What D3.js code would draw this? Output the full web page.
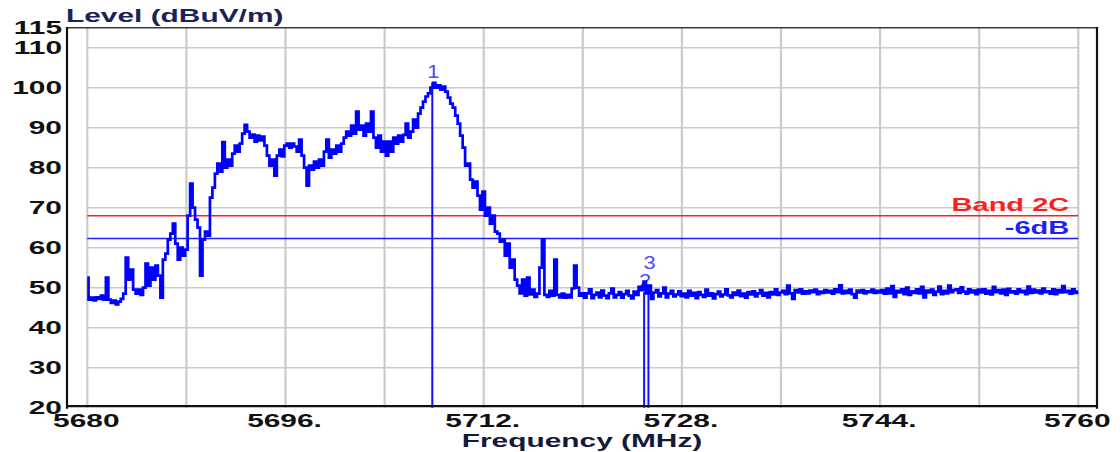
<!DOCTYPE html>
<html>
<head>
<meta charset="utf-8">
<script src="https://cdn.jsdelivr.net/npm/d3@7"></script>
<style>
  html, body { margin: 0; padding: 0; background: #fff; }
  svg { display: block; }
</style>
</head>
<body>
<svg id="chart" width="1120" height="452"></svg>
<script>
// ---------------- DATA ----------------
const freqStart = 5680;
const freqEnd = 5760;
// measured level trace (dBuV/m), evenly spaced from freqStart to freqEnd
const levels = [
  52.5, 47, 47.5, 46.8, 47.6, 47.2, 48, 47, 52.5, 47,
  46.2, 46.8, 45.8, 46.5, 47.2, 48.5, 57.5, 52, 54.5, 49.5,
  48.5, 49.5, 48.2, 50, 56, 50.5, 55, 52, 55.5, 53,
  47.5, 57, 58.5, 62, 63.5, 66, 61, 57, 60, 58,
  59.5,
  68, 76, 70, 67, 65, 53, 62, 64, 63, 72.5,
  75, 78.5, 81, 79, 86.4, 80, 82, 80.5, 83.5, 85.5,
  84, 86, 88.5, 90.7, 89, 87.5, 88.3, 86.5, 88, 86.8,
  87.8, 85.5, 83, 80.5, 82, 78, 83, 84.5, 82.8, 85.5,
  86, 85, 86, 85.3, 84, 87, 83, 80, 75.5, 80.5,
  79.5, 81.5, 80, 82, 80.5, 84, 87, 82.5, 84.5, 83.5,
  85.5, 84, 86, 87.5, 89, 88, 90.5, 88.5, 94, 89.5,
  90.5, 88, 91, 89, 94, 87.5, 85, 88, 84, 86.5,
  83, 86.5, 84, 87.5, 86, 88, 86.5, 88.2, 91, 87.5,
  89, 92, 90, 93.5, 95, 96.5, 97.8, 98.6, 100, 101.2,
  100, 100.6, 99.5, 100.3, 99, 97.5, 96, 95, 93, 91,
  88, 85, 80.5, 81, 77, 75, 76.5, 73, 69.5, 74,
  68, 70, 66, 68, 64, 63.5, 61.5, 62, 58, 61,
  55, 57, 52, 50.5, 48.6, 52, 48, 52.5, 48.3, 49.5,
  47.7, 48.5, 55, 62, 48.2, 47.7, 49.2, 48, 57, 48.2,
  47.6, 48.5, 47.5, 48.2, 47.6, 49.8, 55.5, 50, 48, 48.6,
  47.5, 48.6, 49.6, 47.4, 48.2, 48.8, 47.6, 49.3, 48, 47.4,
  48.6, 49.8, 47.6, 48.2, 48.9, 47.5, 48.4, 49.2, 48, 47.3,
  49, 48.2, 50.2, 49.4, 51.5, 48.6, 50.5, 47.2, 48.8, 49.4,
  47.8, 48.6, 50, 47.6, 48.5, 49.2, 47.8, 48.3, 49.1, 47.9,
  48.5, 47.6, 49.2, 48, 48.7, 47.4, 48.9, 48.2, 47.7, 49.5,
  48, 48.6, 47.3, 48.4, 49, 47.8, 48.3, 49.6, 48.1, 47.6,
  48.8, 48.2, 49.3, 47.9, 48.5, 47.5, 48.9, 48.3, 49.1, 47.8,
  48.6, 49.4, 48, 48.7, 47.6, 48.9, 48.3, 49.6, 48.2, 48.8,
  49.2, 48.4, 50.5, 48.6, 47.2, 49.4, 48.8, 49.6, 48.5, 49.1,
  48.6, 49.3, 48.9, 49.5, 48.4, 49, 48.7, 49.4, 48.8, 49.2,
  48.5, 49.6, 48.9, 50.6, 48.6, 49.2, 48.7, 49.5, 48.4, 47.5,
  49.3, 48.8, 49.4, 48.6, 49.1, 48.9, 49.5, 48.7, 49.2, 48.8,
  49.4, 48.5, 49.8, 48.6, 50.4, 47.7, 49.2, 48.8, 49.6, 48.4,
  50, 48.2, 49.1, 48.7, 49.6, 48.6, 50.2, 47.6, 49.3, 48.8,
  49.5, 48.2, 49, 50.3, 48.4, 49.2, 48.6, 50.5, 48.9, 49.4,
  49.6, 48.7, 50.1, 49, 48.5, 49.6, 48.8, 49.3, 48.4, 49.5,
  48.8, 49.6, 48.5, 49.2, 48.3, 50.2, 48.9, 49.4, 48.6, 49.5,
  48.2, 49.7, 48.8, 49.1, 48.5, 49.6, 48.9, 49.2, 48.4, 50.3,
  48.7, 49.5, 48.8, 49.3, 48.6, 49.8, 48.9, 49.1, 48.5, 49.6,
  48.4, 49.4, 48.8, 50.4, 48.9, 49.2, 48.5, 49.6, 48.7, 49
];

const xTickValues = [5680, 5696, 5712, 5728, 5744, 5760];
const xTickLabels = ["5680", "5696.", "5712.", "5728.", "5744.", "5760"];
const xGridValues = [5680, 5688, 5696, 5704, 5712, 5720, 5728, 5736, 5744, 5752, 5760];
const yTickValues = [20, 30, 40, 50, 60, 70, 80, 90, 100, 110, 115];
const yGridValues = [30, 40, 50, 60, 70, 80, 90, 100, 110];

const refLabels = ["Band 2C", "-6dB"];
const refLevels = [68, 62.3];
const refColors = ["#ff1e1e", "#1e1eff"];

const markerLabels = ["1", "2", "3"];
const markerFreqs = [5707.85, 5724.95, 5725.3];
const markerLevels = [101.2, 48.9, 49.6];

const yTitle = "Level (dBuV/m)";
const xTitle = "Frequency (MHz)";

// ---------------- LAYOUT ----------------
const SX = 1.66; // horizontal text stretch of the original screenshot
const FONT = "'Liberation Sans', Arial, Helvetica, sans-serif";
const frame = { left: 67, top: 27.7, right: 1097, bottom: 407.7 };

const svg = d3.select("#chart");

const x = d3.scaleLinear().domain([freqStart, freqEnd]).range([87.3, 1078.3]);
const y = d3.scaleLinear().domain([20, 115]).range([407.7, 27.7]);

function stretchedText(parent, px, py, str, anchor, fill, size, weight) {
  const g = parent.append("g").attr("transform", `translate(${px},${py}) scale(${SX},1)`);
  return g.append("text")
    .attr("x", 0).attr("y", 0)
    .attr("text-anchor", anchor)
    .attr("font-family", FONT)
    .attr("font-size", size)
    .attr("font-weight", weight)
    .attr("fill", fill)
    .text(str);
}

// grid
const grid = svg.append("g");
grid.selectAll("line.v").data(xGridValues).join("line")
  .attr("class", "v")
  .attr("x1", d => x(d)).attr("x2", d => x(d))
  .attr("y1", frame.top).attr("y2", frame.bottom)
  .attr("stroke", "#cbcbcb").attr("stroke-width", 2.2);
grid.selectAll("line.h").data(yGridValues).join("line")
  .attr("class", "h")
  .attr("x1", x(freqStart)).attr("x2", x(freqEnd))
  .attr("y1", d => y(d)).attr("y2", d => y(d))
  .attr("stroke", "#cbcbcb").attr("stroke-width", 1.6);

// reference lines
refLevels.forEach((lv, i) => {
  svg.append("line")
    .attr("x1", x(freqStart)).attr("x2", x(freqEnd))
    .attr("y1", y(lv)).attr("y2", y(lv))
    .attr("stroke", refColors[i]).attr("stroke-width", 1.6);
  stretchedText(svg, x(freqEnd) - 9, y(lv) - 4.5, refLabels[i], "end", refColors[i], 17.5, "bold");
});

// markers (lines + labels), drawn under the trace
let prevLabelX = null, prevLabelY = null;
markerFreqs.forEach((f, i) => {
  const mx = x(f);
  svg.append("line")
    .attr("x1", mx).attr("x2", mx)
    .attr("y1", y(20)).attr("y2", y(markerLevels[i]))
    .attr("stroke", "#1010ff").attr("stroke-width", 2);
  let ly = y(markerLevels[i]) - 5;
  if (prevLabelX !== null && Math.abs(mx - prevLabelX) < 12) {
    ly = Math.min(ly, prevLabelY - 18);
  }
  prevLabelX = mx; prevLabelY = ly;
  const g = svg.append("g").attr("transform", `translate(${mx + 1},${ly}) scale(1.25,1)`);
  g.append("text")
    .attr("text-anchor", "middle")
    .attr("font-family", FONT)
    .attr("font-size", 17.5)
    .attr("fill", "#4a4af5")
    .text(markerLabels[i]);
});

// trace
const step = (freqEnd - freqStart) / (levels.length - 1);
const line = d3.line()
  .x((d, i) => x(freqStart + i * step))
  .y(d => y(d))
  .curve(d3.curveStep);
svg.append("path")
  .datum(levels)
  .attr("d", line)
  .attr("fill", "none")
  .attr("stroke", "#0000ff")
  .attr("stroke-width", 2.7)
  .attr("stroke-linejoin", "miter");

// frame
svg.append("line").attr("x1", frame.left).attr("x2", frame.right)
  .attr("y1", frame.top).attr("y2", frame.top)
  .attr("stroke", "#3a3a3a").attr("stroke-width", 1.5);
svg.append("line").attr("x1", frame.left).attr("x2", frame.left)
  .attr("y1", frame.top - 0.7).attr("y2", frame.bottom + 1)
  .attr("stroke", "#111").attr("stroke-width", 2.2);
svg.append("line").attr("x1", frame.right).attr("x2", frame.right)
  .attr("y1", frame.top - 0.7).attr("y2", frame.bottom + 1)
  .attr("stroke", "#111").attr("stroke-width", 2.2);
svg.append("line").attr("x1", frame.left).attr("x2", frame.right + 1)
  .attr("y1", frame.bottom - 1.5).attr("y2", frame.bottom - 1.5)
  .attr("stroke", "#111").attr("stroke-width", 2.2);

// y tick labels
yTickValues.forEach(v => {
  stretchedText(svg, 62, y(v) + 6, String(v), "end", "#111", 18, "bold");
});

// x tick labels
xTickValues.forEach((v, i) => {
  stretchedText(svg, x(v) - 1, 427, xTickLabels[i], "middle", "#111", 18, "bold");
});

// titles
stretchedText(svg, 66, 21.5, yTitle, "start", "#1c2258", 18, "bold");
stretchedText(svg, 582, 446.5, xTitle, "middle", "#151a3a", 18, "bold");
</script>
</body>
</html>
